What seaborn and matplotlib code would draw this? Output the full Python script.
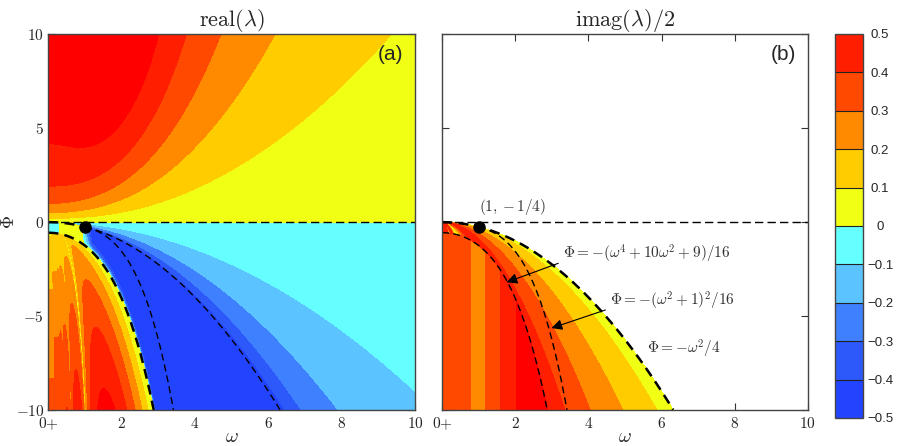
import numpy as np
import matplotlib
matplotlib.use("Agg")
import matplotlib.pyplot as plt
from matplotlib.colors import ListedColormap, BoundaryNorm
from matplotlib.cm import ScalarMappable
import seaborn as sns

# ---------------- data ----------------
levels = [-0.5, -0.4, -0.3, -0.2, -0.1, 0.0, 0.1, 0.2, 0.3, 0.4, 0.5]
band_colors = ["#2244FF", "#2D58FA", "#3F80FF", "#5BC3FF", "#66FFFF",
               "#F0FF14", "#FFCC00", "#FF8A00", "#FF4800", "#FF1E00"]
over_color = "#FF0000"
under_color = "#1A33FF"
cbar_ticklabels = ["\u22120.5", "\u22120.4", "\u22120.3", "\u22120.2", "\u22120.1",
                   "0", "0.1", "0.2", "0.3", "0.4", "0.5"]
x_ticks = [0, 2, 4, 6, 8, 10]
x_ticklabels = [r"$0{+}$", r"$2$", r"$4$", r"$6$", r"$8$", r"$10$"]
y_ticks = [-10, -5, 0, 5, 10]
y_ticklabels = [r"$-10$", r"$-5$", r"$0$", r"$5$", r"$10$"]
titles = [r"$\mathrm{real}(\lambda)$", r"$\mathrm{imag}(\lambda)/2$"]
panel_tags = ["(a)", "(b)"]
# vertical bands of imag(lambda)/2 inside the unstable tongue (panel b)
imag_band_edges = [0.0, 0.39, 0.78, 1.17, 1.58, 2.04]
imag_band_values = [0.35, 0.34, 0.25, 0.35, 0.44, 0.52]
# relative heights of the lobes of real(lambda) inside the tongue (panel a)
lobe_amplitudes = [1.0, 0.85, 0.76, 0.74, 0.72, 0.72, 0.72, 0.72]
special_point = (1.0, -0.25)
curve_labels = [r"$\Phi=-(\omega^4+10\omega^2+9)/16$",
                r"$\Phi=-(\omega^2+1)^2/16$",
                r"$\Phi=-\omega^2/4$"]
point_label = r"$(1,-1/4)$"

# ---------------- grid ----------------
W = np.linspace(0.004, 10, 1600)
P = np.linspace(-10, 10, 1400)
w, p = np.meshgrid(W, P)
para = -w**2 / 4
c2 = -(w**4 + 10 * w**2 + 9) / 16
q = p / w**2


def real_field():
    R = np.zeros_like(w)
    e = np.exp(-w**2 / 4)
    g = (1.6 + 0.95 * p) * e + 0.035 * p**2 * (1 - e)
    up = p >= 0
    R[up] = (-0.5 + np.sqrt(0.25 + np.clip(p, 0, None) / (w**2 + g)))[up]
    right = (p < 0) & (p > para)
    R[right] = (-0.5 + np.sqrt(np.clip(0.25 + q, 0, None)))[right]
    mid = (p <= para) & (p > c2)
    d = p - c2
    wt = np.clip((w - 0.9) / 0.3, 0, 1)
    base = np.where(w < 0.3, -0.04, 0.05)
    Rm = -0.49 * (1 - np.exp(-d / 0.25)) * wt + base * (1 - wt)
    R[mid] = Rm[mid]
    low = p <= c2
    wc = np.sqrt(np.clip(-5 + 4 * np.sqrt(1 - p), 0, None))
    ws1 = np.sqrt(np.clip(1.92 * (-p + 0.3) / (-p + 9.78), 0, None))
    amp = 0.53 * np.sqrt(np.clip((-p + 0.2) / 10.2, 0, None))
    RD = np.zeros_like(w)
    right_edge = wc.copy()
    for k, a in enumerate(lobe_amplitudes, start=1):
        left_edge = ws1 * 3 / (2 * k + 1)
        m = (w > left_edge) & (w <= right_edge)
        span = np.maximum(right_edge - left_edge, 1e-6)
        t = np.clip((w - left_edge) / span, 0, 1)
        if k == 1:
            G = t**0.43 * (1 - t) / 0.417
        elif k == 2:
            G = (4 * t * (1 - t))**0.3
        else:
            G = 0.8 + 0.2 * (4 * t * (1 - t))**0.5
        RD[m] = (amp * a * G)[m]
        right_edge = np.minimum(left_edge, wc)
    m = w <= right_edge
    RD[m] = (amp * 0.62)[m]
    RD = RD - 0.25 * np.exp(-((w - ws1) / 0.015)**2) * (ws1 < wc)
    R[low] = RD[low]
    return np.maximum(R, -0.49)


def imag_field():
    V = np.full_like(w, np.nan)
    inside = (p < para) & (p < 0)
    Om = np.sqrt(np.clip(-q - 0.25, 0, None))
    fold = np.abs(np.mod(Om + 1, 2) - 1)
    V[inside] = (fold / 2)[inside]
    low = p <= c2
    idx = np.clip(np.searchsorted(imag_band_edges, w, side="right") - 1, 0,
                  len(imag_band_values) - 1)
    band = np.asarray(imag_band_values)[idx]
    V[low] = band[low]
    return np.ma.masked_invalid(V)


# ---------------- style ----------------
sns.set_style("ticks")
plt.rcParams.update({
    "mathtext.fontset": "cm",
    "xtick.direction": "in", "ytick.direction": "in",
    "xtick.top": True, "ytick.right": True,
    "axes.edgecolor": "#444444", "axes.linewidth": 1.0,
})
plt.rcParams["font.family"] = ["DejaVu Serif"]

cmap = ListedColormap(sns.color_palette(band_colors))
cmap.set_over(over_color)
cmap.set_under(under_color)

fig = plt.figure(figsize=(9, 4.46), dpi=100)
ax_a = fig.add_axes([0.0537, 0.0807, 0.4074, 0.8424])
ax_b = fig.add_axes([0.4914, 0.0807, 0.4060, 0.8424])
cax = fig.add_axes([0.9278, 0.0628, 0.0315, 0.861])

ax_a.contourf(W, P, real_field(), levels=levels, cmap=cmap, extend="both")
ax_b.contourf(W, P, imag_field(), levels=levels, cmap=cmap, extend="both")

wl = np.linspace(0, 10, 800)
thin = dict(color="k", lw=1.0, ls=(0, (5, 3)))
thick = dict(color="k", lw=1.8, ls=(0, (4, 2.5)))
wp1 = wl[wl <= 1.0]
wp2 = wl[(wl >= 1.0) & (wl <= 6.33)]
wcur1 = wl[(wl >= 1.0) & (wl <= 3.42)]
wcur2 = wl[wl <= 2.88]
for ax in (ax_a, ax_b):
    ax.axhline(0, color="k", lw=1.0, ls=(0, (6, 3)))
ax_a.plot(wp1, -wp1**2 / 4, **thick)
ax_a.plot(wp2, -wp2**2 / 4, **thin)
ax_a.plot(wcur1, -(wcur1**2 + 1)**2 / 16, **thin)
ax_a.plot(wcur2, -(wcur2**4 + 10 * wcur2**2 + 9) / 16, **thick)
wpb = wl[wl <= 6.33]
ax_b.plot(wpb, -wpb**2 / 4, **thick)
ax_b.plot(wcur1, -(wcur1**2 + 1)**2 / 16, **thin)
ax_b.plot(wcur2, -(wcur2**4 + 10 * wcur2**2 + 9) / 16, **thin)
for ax in (ax_a, ax_b):
    ax.plot([special_point[0]], [special_point[1]], "o", color="k", ms=8, zorder=5)

for ax, title, tag in zip((ax_a, ax_b), titles, panel_tags):
    ax.set_xlim(0, 10)
    ax.set_ylim(-10, 10)
    ax.set_xticks(x_ticks)
    ax.set_xticklabels(x_ticklabels, fontsize=11)
    ax.set_yticks(y_ticks)
    ax.tick_params(length=5, width=0.8, color="#333333", pad=3)
    ax.tick_params(axis="x", pad=4)
    ax.set_title(title, fontsize=16, pad=4)
    ax.set_xlabel(r"$\omega$", fontsize=14, labelpad=-3)
    ax.text(0.968, 0.972, tag, transform=ax.transAxes, ha="right", va="top",
            fontsize=15, family=["Liberation Sans", "DejaVu Sans"])
    ax.set_facecolor("white")
ax_a.set_yticklabels(y_ticklabels, fontsize=11)
ax_a.set_ylabel(r"$\Phi$", fontsize=13, va="center")
ax_a.yaxis.set_label_coords(-0.106, 0.5)
ax_b.set_yticklabels([])

tcol = "#333333"
ax_b.text(1.0, 0.8, point_label, fontsize=11, ha="left", va="center", color=tcol)
arrow = dict(arrowstyle="-|>", color="k", lw=0.8, mutation_scale=16,
             shrinkA=1, shrinkB=0, relpos=(0, 0.15))
ax_b.annotate(curve_labels[0], xy=(1.76, -3.2), xytext=(3.3, -1.69),
              fontsize=11, ha="left", va="center", color=tcol, arrowprops=arrow)
ax_b.annotate(curve_labels[1], xy=(2.99, -5.64), xytext=(4.59, -4.18),
              fontsize=11, ha="left", va="center", color=tcol, arrowprops=arrow)
ax_b.text(5.59, -6.76, curve_labels[2], fontsize=11, ha="left", va="center", color=tcol)

cb_cmap = ListedColormap(sns.color_palette(band_colors))
sm = ScalarMappable(norm=BoundaryNorm(levels, cb_cmap.N), cmap=cb_cmap)
cb = fig.colorbar(sm, cax=cax, boundaries=levels, ticks=levels, drawedges=True)
cb.ax.set_yticklabels(cbar_ticklabels, fontsize=9.5,
                      family=["Liberation Sans", "DejaVu Sans"], ha="center")
cb.ax.tick_params(length=0, pad=12, right=True, left=False)
cb.outline.set_edgecolor("#444444")
cb.dividers.set_color("#222222")
cb.dividers.set_linewidth(0.8)

fig.savefig("out.png", dpi=100, facecolor="white")
